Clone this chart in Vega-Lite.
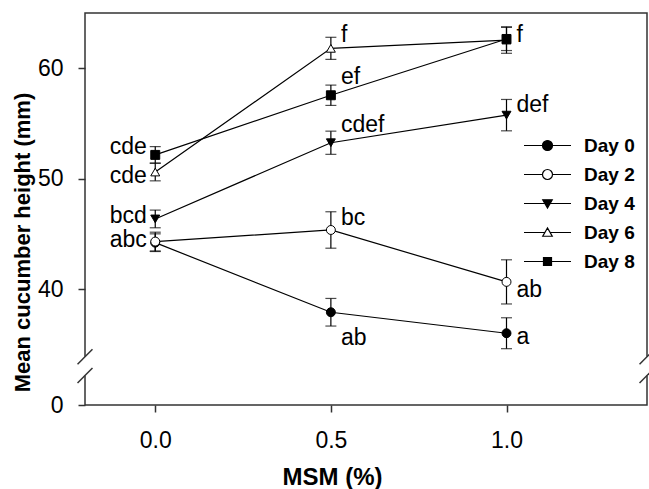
{
  "$schema": "https://vega.github.io/schema/vega-lite/v6.json",
  "width": 562,
  "height": 392,
  "autosize": "none",
  "padding": {"left": 85, "top": 13, "right": 2, "bottom": 84},
  "config": {
    "view": {"stroke": "#333333", "strokeWidth": 1.5},
    "font": "Liberation Sans"
  },
  "datasets": {
    "main": [
      {"MSM": 0, "Day": "Day 0", "mean": 44.2, "se": 0.8},
      {"MSM": 0.5, "Day": "Day 0", "mean": 37.9, "se": 1.25},
      {"MSM": 1, "Day": "Day 0", "mean": 36.0, "se": 1.4},
      {"MSM": 0, "Day": "Day 2", "mean": 44.3, "se": 0.85},
      {"MSM": 0.5, "Day": "Day 2", "mean": 45.35, "se": 1.65},
      {"MSM": 1, "Day": "Day 2", "mean": 40.65, "se": 2.0},
      {"MSM": 0, "Day": "Day 4", "mean": 46.35, "se": 0.8},
      {"MSM": 0.5, "Day": "Day 4", "mean": 53.25, "se": 1.05},
      {"MSM": 1, "Day": "Day 4", "mean": 55.75, "se": 1.42},
      {"MSM": 0, "Day": "Day 6", "mean": 50.6, "se": 0.8},
      {"MSM": 0.5, "Day": "Day 6", "mean": 61.8, "se": 1.0},
      {"MSM": 1, "Day": "Day 6", "mean": 62.55, "se": 1.2},
      {"MSM": 0, "Day": "Day 8", "mean": 52.15, "se": 0.75},
      {"MSM": 0.5, "Day": "Day 8", "mean": 57.55, "se": 0.92},
      {"MSM": 1, "Day": "Day 8", "mean": 62.65, "se": 1.05}
    ],
    "letters": [
      {"MSM": 0, "y": 52.89, "text": "cde"},
      {"MSM": 0, "y": 50.27, "text": "cde"},
      {"MSM": 0, "y": 46.62, "text": "bcd"},
      {"MSM": 0, "y": 44.44, "text": "abc"},
      {"MSM": 0.5, "y": 63.0, "text": "f"},
      {"MSM": 0.5, "y": 59.23, "text": "ef"},
      {"MSM": 0.5, "y": 54.86, "text": "cdef"},
      {"MSM": 0.5, "y": 46.44, "text": "bc"},
      {"MSM": 0.5, "y": 35.57, "text": "ab"},
      {"MSM": 1, "y": 63.0, "text": "f"},
      {"MSM": 1, "y": 56.67, "text": "def"},
      {"MSM": 1, "y": 39.91, "text": "ab"},
      {"MSM": 1, "y": 35.69, "text": "a"}
    ],
    "gaps": [
      {"x": -0.2065, "x2": -0.1935, "y": 32.17, "y2": 33.87},
      {"x": 1.3935, "x2": 1.4065, "y": 32.17, "y2": 33.87}
    ],
    "breaks": [
      {"x": -0.2213, "x2": -0.1787, "y": 33.19, "y2": 34.55},
      {"x": -0.2213, "x2": -0.1787, "y": 31.49, "y2": 32.85},
      {"x": 1.3787, "x2": 1.4213, "y": 33.19, "y2": 34.55},
      {"x": 1.3787, "x2": 1.4213, "y": 31.49, "y2": 32.85}
    ]
  },
  "encoding": {
    "x": {
      "field": "MSM", "type": "quantitative",
      "scale": {"domain": [-0.2, 1.4], "nice": false, "zero": false},
      "axis": {
        "values": [0, 0.5, 1], "format": ".1f", "title": "MSM (%)",
        "grid": false, "domain": false,
        "tickSize": 7, "tickColor": "#333333", "tickWidth": 1.5,
        "labelFont": "Liberation Sans", "labelFontSize": 23, "labelColor": "black", "labelPadding": 17,
        "titleFont": "Liberation Sans", "titleFontSize": 24, "titleFontWeight": "bold", "titleColor": "black",
        "titleX": 247, "titleY": 79, "titleBaseline": "alphabetic", "titleAlign": "center"
      }
    },
    "y": {
      "field": "mean", "type": "quantitative",
      "scale": {"domain": [29.5, 65], "nice": false, "zero": false},
      "axis": {
        "values": [29.5, 40, 50, 60],
        "labelExpr": "datum.value < 30 ? '0' : format(datum.value, 'd')",
        "title": "Mean cucumber height (mm)",
        "grid": false, "domain": false,
        "tickSize": 7, "tickColor": "#333333", "tickWidth": 1.5,
        "labelFont": "Liberation Sans", "labelFontSize": 23, "labelColor": "black", "labelPadding": 15,
        "titleFont": "Liberation Sans", "titleFontSize": 22, "titleFontWeight": "bold", "titleColor": "black",
        "titleX": -56, "titleY": 229, "titleAngle": -90, "titleBaseline": "alphabetic", "titleAlign": "center"
      }
    }
  },
  "layer": [
    {
      "data": {"name": "gaps"},
      "mark": {"type": "rect", "fill": "white", "stroke": null},
      "encoding": {
        "x": {"field": "x", "type": "quantitative"},
        "x2": {"field": "x2"},
        "y": {"field": "y", "type": "quantitative"},
        "y2": {"field": "y2"}
      }
    },
    {
      "data": {"name": "breaks"},
      "mark": {"type": "rule", "color": "#333333", "strokeWidth": 1.5},
      "encoding": {
        "x": {"field": "x", "type": "quantitative"},
        "x2": {"field": "x2"},
        "y": {"field": "y", "type": "quantitative"},
        "y2": {"field": "y2"}
      }
    },
    {
      "data": {"name": "main"},
      "mark": {"type": "line", "color": "black", "strokeWidth": 1.2},
      "encoding": {"detail": {"field": "Day"}}
    },
    {
      "data": {"name": "main"},
      "mark": {"type": "errorbar", "ticks": true, "size": 11, "thickness": 1.2, "color": "black"},
      "encoding": {
        "y": {"field": "mean", "type": "quantitative"},
        "yError": {"field": "se"}
      }
    },
    {
      "data": {"name": "main"},
      "mark": {"type": "point", "filled": true, "stroke": "black", "strokeWidth": 1, "size": 80, "opacity": 1},
      "encoding": {
        "shape": {
          "field": "Day", "type": "nominal", "legend": null,
          "scale": {"domain": ["Day 0", "Day 2", "Day 4", "Day 6", "Day 8"], "range": ["circle", "circle", "triangle-down", "triangle-up", "square"]}
        },
        "fill": {
          "field": "Day", "type": "nominal", "legend": null,
          "scale": {"domain": ["Day 0", "Day 2", "Day 4", "Day 6", "Day 8"], "range": ["black", "white", "black", "white", "black"]}
        }
      }
    },
    {
      "data": {"name": "letters"},
      "transform": [{"filter": "datum.MSM == 0"}],
      "mark": {"type": "text", "align": "right", "baseline": "middle", "dx": -8.5, "font": "Liberation Sans", "fontSize": 23, "color": "black"},
      "encoding": {
        "y": {"field": "y", "type": "quantitative"},
        "text": {"field": "text"}
      }
    },
    {
      "data": {"name": "letters"},
      "transform": [{"filter": "datum.MSM > 0"}],
      "mark": {"type": "text", "align": "left", "baseline": "middle", "dx": 10, "font": "Liberation Sans", "fontSize": 23, "color": "black"},
      "encoding": {
        "y": {"field": "y", "type": "quantitative"},
        "text": {"field": "text"}
      }
    },
    {
      "data": {"name": "main"},
      "transform": [{"filter": "false"}],
      "mark": {"type": "point", "filled": true, "opacity": 1},
      "encoding": {
        "shape": {
          "field": "Day", "type": "nominal",
          "scale": {"domain": ["Day 0", "Day 2", "Day 4", "Day 6", "Day 8"], "range": [
            "M-4.7,0H4.7M-1,0A1,1,0,1,1,1,0A1,1,0,1,1,-1,0Z",
            "M-4.7,0H-1M1,0H4.7M-1,0A1,1,0,1,1,1,0A1,1,0,1,1,-1,0Z",
            "M-4.7,0H4.7M-0.95,-0.75L0.95,-0.75L0,0.9Z",
            "M-4.7,0H-0.52M0.52,0H4.7M-0.95,0.75L0.95,0.75L0,-0.9Z",
            "M-4.7,0H4.7M-0.8,-0.8H0.8V0.8H-0.8Z"
          ]},
          "legend": {
            "title": null, "orient": "none", "legendX": 453, "legendY": 123, "padding": 0,
            "labelFont": "Liberation Sans", "labelFontSize": 19, "labelFontWeight": "bold", "labelColor": "black",
            "labelOffset": 27, "rowPadding": 9, "symbolSize": 100, "symbolStrokeWidth": 1.2, "symbolOpacity": 1
          }
        },
        "fill": {
          "field": "Day", "type": "nominal",
          "scale": {"domain": ["Day 0", "Day 2", "Day 4", "Day 6", "Day 8"], "range": ["black", "white", "black", "white", "black"]},
          "legend": {
            "title": null, "orient": "none", "legendX": 453, "legendY": 123, "padding": 0,
            "labelFont": "Liberation Sans", "labelFontSize": 19, "labelFontWeight": "bold", "labelColor": "black",
            "labelOffset": 27, "rowPadding": 9, "symbolSize": 100, "symbolStrokeWidth": 1.2, "symbolOpacity": 1
          }
        },
        "stroke": {
          "field": "Day", "type": "nominal",
          "scale": {"domain": ["Day 0", "Day 2", "Day 4", "Day 6", "Day 8"], "range": ["black", "black", "black", "black", "black"]},
          "legend": {
            "title": null, "orient": "none", "legendX": 453, "legendY": 123, "padding": 0,
            "labelFont": "Liberation Sans", "labelFontSize": 19, "labelFontWeight": "bold", "labelColor": "black",
            "labelOffset": 27, "rowPadding": 9, "symbolSize": 100, "symbolStrokeWidth": 1.2, "symbolOpacity": 1
          }
        }
      }
    }
  ],
  "resolve": {
    "scale": {"shape": "independent", "fill": "independent", "stroke": "independent"},
    "legend": {"shape": "independent", "fill": "independent", "stroke": "independent"}
  }
}
